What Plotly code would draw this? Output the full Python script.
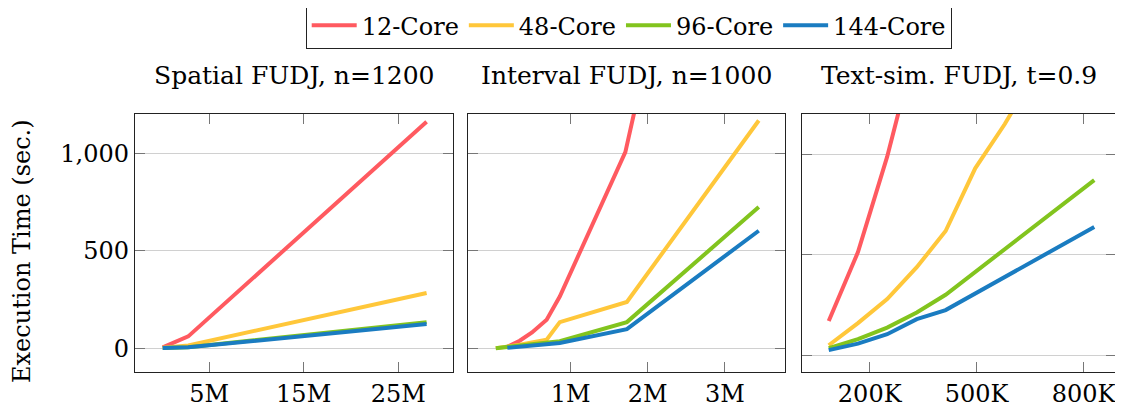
import plotly.graph_objects as go

series_names = ["12-Core", "48-Core", "96-Core", "144-Core"]
colors = ["#FF5A60", "#FFC73A", "#82C41E", "#1A7CC1"]

sp_x = {k: [0.1e6, 2.8e6, 28e6] for k in series_names}
sp_y = {
    "12-Core": [7, 63, 1160],
    "48-Core": [5, 17, 285],
    "96-Core": [4, 8, 136],
    "144-Core": [4, 7, 126],
}
iv_x = {
    "12-Core": [0.18e6, 0.34e6, 0.5e6, 0.69e6, 0.86e6, 1.71e6, 1.9e6],
    "48-Core": [0.03e6, 0.34e6, 0.69e6, 0.86e6, 1.73e6, 3.44e6],
    "96-Core": [0.03e6, 0.86e6, 1.73e6, 3.44e6],
    "144-Core": [0.18e6, 0.86e6, 1.73e6, 3.44e6],
}
iv_y = {
    "12-Core": [10, 41, 83, 148, 267, 1005, 1340],
    "48-Core": [3, 20, 46, 136, 239, 1167],
    "96-Core": [3, 38, 136, 724],
    "144-Core": [5, 29, 100, 603],
}
ts_x = {
    "12-Core": [85e3, 167e3, 249e3, 332e3],
    "48-Core": [85e3, 167e3, 249e3, 332e3, 413e3, 496e3, 579e3, 662e3],
    "96-Core": [85e3, 167e3, 249e3, 332e3, 413e3, 830e3],
    "144-Core": [85e3, 167e3, 249e3, 332e3, 413e3, 830e3],
}
ts_y = {
    "12-Core": [171, 513, 988, 1560],
    "48-Core": [50, 160, 280, 438, 618, 930, 1150, 1400],
    "96-Core": [35, 80, 138, 213, 301, 871],
    "144-Core": [26, 58, 105, 180, 225, 638],
}

titles = ["Spatial FUDJ, n=1200", "Interval FUDJ, n=1000", "Text-sim. FUDJ, t=0.9"]
x_tickvals = [[5e6, 15e6, 25e6], [1e6, 2e6, 3e6], [200e3, 500e3, 800e3]]
x_ticktext = [["5M", "15M", "25M"], ["1M", "2M", "3M"], ["200K", "500K", "800K"]]
y_tickvals = [0, 500, 1000]
y_ticktext = ["0", "500", "1,000"]
y_title = "Execution Time (sec.)"

x_ranges = [[-2.83e6, 30.79e6], [-0.33e6, 3.78e6], [10e3, 891e3]]
y_ranges = [[-119, 1200], [-119, 1200], [-83, 1200]]

FONT = "DejaVu Serif"
OFF = 8  # page body margin
W, H = 1123 - OFF, 411 - OFF
ml, mr, mt, mb = 135 - OFF, 7, 114 - OFF, 39
pw = W - ml - mr
ph = H - mt - mb
px_domains = [(135, 453), (468, 785), (802, 1116)]
domains = [[(a - OFF - ml) / pw, (b - OFF - ml) / pw] for a, b in px_domains]

def py(y):  # reference pixel y -> paper
    return (H - mb - (y - OFF)) / ph

def px(x):
    return (x - OFF - ml) / pw

fig = go.Figure()
panels = [(sp_x, sp_y), (iv_x, iv_y), (ts_x, ts_y)]
for i, (dx, dy) in enumerate(panels):
    sfx = "" if i == 0 else str(i + 1)
    for name, col in zip(series_names, colors):
        fig.add_trace(go.Scatter(
            x=dx[name], y=dy[name], mode="lines", name=name,
            line=dict(color=col, width=4),
            xaxis="x" + sfx, yaxis="y" + sfx,
            showlegend=(i == 0),
        ))

layout = dict(
    width=W, height=H,
    margin=dict(l=ml, r=mr, t=mt, b=mb, autoexpand=False),
    paper_bgcolor="white", plot_bgcolor="white",
    font=dict(family=FONT, size=24, color="black"),
    legend=dict(
        orientation="h", x=px(629), xanchor="center",
        y=py(2), yanchor="top",
        bordercolor="#222", borderwidth=1.2,
        font=dict(family=FONT, size=24),
        itemwidth=45,
    ),
    annotations=[],
)
for i in range(3):
    sfx = "" if i == 0 else str(i + 1)
    layout["xaxis" + sfx] = dict(
        domain=domains[i], range=x_ranges[i], anchor="y" + sfx,
        tickvals=x_tickvals[i], ticktext=x_ticktext[i],
        ticks="inside", ticklen=10, tickcolor="#777", tickwidth=1,
        showline=True, linecolor="#222", linewidth=1.3, mirror="ticks",
        showgrid=False, zeroline=False, automargin=False,
        tickfont=dict(family=FONT, size=24),
    )
    layout["yaxis" + sfx] = dict(
        domain=[0, 1], range=y_ranges[i], anchor="x" + sfx,
        tickvals=y_tickvals, ticktext=y_ticktext,
        showticklabels=(i == 0),
        ticks="inside", ticklen=10, tickcolor="#777", tickwidth=1,
        showline=True, linecolor="#222", linewidth=1.3, mirror="ticks",
        showgrid=True, gridcolor="#d0d0d0", gridwidth=1, zeroline=False,
        automargin=False,
        tickfont=dict(family=FONT, size=24),
    )
    layout["annotations"].append(dict(
        text=titles[i], xref="paper", yref="paper",
        x=(domains[i][0] + domains[i][1]) / 2, y=py(92),
        xanchor="center", yanchor="bottom", showarrow=False,
        font=dict(family=FONT, size=25),
    ))
layout["annotations"].append(dict(
    text=y_title, xref="paper", yref="paper",
    x=px(22), y=py(251), textangle=-90,
    xanchor="center", yanchor="middle", showarrow=False,
    font=dict(family=FONT, size=24),
))
fig.update_layout(**layout)
fig.write_html("out.html")
